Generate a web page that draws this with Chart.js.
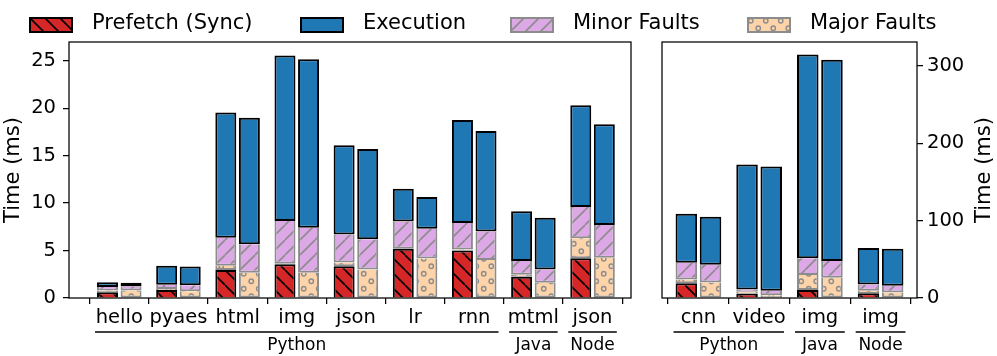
<!DOCTYPE html>
<html><head><meta charset="utf-8">
<script src="https://cdn.jsdelivr.net/npm/chart.js@4.4.0/dist/chart.umd.min.js"></script>
<style>
html,body{margin:0;padding:0;background:#fff;width:997px;height:356px;overflow:hidden;font-family:'DejaVu Sans';}
#wrap{position:relative;width:997px;height:356px;}
#cl{position:absolute;left:0;top:0;}
#cr{position:absolute;left:640px;top:0;}
.sw{position:absolute;top:17px;}
.lt{position:absolute;top:12px;font-size:21px;line-height:1;white-space:nowrap;color:#000;font-family:'DejaVu Sans';}
</style></head><body>
<div id="wrap">
<canvas id="cl" width="640" height="356"></canvas>
<canvas id="cr" width="357" height="356"></canvas>
<div id="legend"></div>
</div>
<script>
// ---------- data: left panel (ms) ----------
const labelsL = ['hello','pyaes','html','img','json','lr','rnn','mtml','json'];
const prefetchL   = [0.6, 0.85, 2.95, 3.55, 3.35, 5.2, 5.0, 2.25, 4.2];
const majorWithL  = [0.2, 0.1, 0.45, 0.05, 0.4, 0.0, 0.1, 0.2, 2.1];
const minorWithL  = [0.35, 0.45, 2.95, 4.5, 2.95, 2.85, 2.8, 1.45, 3.3];
const execWithL   = [0.5, 2.0, 13.2, 17.45, 9.4, 3.45, 10.85, 5.25, 10.7];
const majorL      = [0.8, 0.7, 2.65, 2.65, 3.0, 4.15, 4.0, 1.6, 4.25];
const minorL      = [0.4, 0.65, 3.0, 4.75, 3.2, 3.15, 3.0, 1.4, 3.45];
const execL       = [0.4, 1.96, 13.35, 17.75, 9.5, 3.35, 10.6, 5.45, 10.6];
const groupNamesL = ['Python','Java','Node'];
const groupFromL  = [0, 7, 8];
const groupToL    = [6, 7, 8];
const yTicksL     = [0, 5, 10, 15, 20, 25];

// ---------- data: right panel (ms) ----------
const labelsR = ['cnn','video','img','img'];
const prefetchR   = [19, 5.5, 10.3, 6];
const majorWithR  = [5, 2.5, 19.5, 3.5];
const minorWithR  = [21.5, 3, 21.5, 8];
const execWithR   = [63.5, 161.5, 263.5, 47];
const majorR      = [20, 3.5, 26.3, 7];
const minorR      = [23, 6, 21.6, 9];
const execR       = [62, 160.5, 260, 47.8];
const groupNamesR = ['Python','Java','Node'];
const groupFromR  = [0, 2, 3];
const groupToR    = [1, 2, 3];
const yTicksR     = [0, 100, 200, 300];

const legendNames = ['Prefetch (Sync)','Execution','Minor Faults','Major Faults'];

// ---------- styles ----------
const BLACK = '#000000', GREY = '#8c8c8c';
const STYLE = {
  prefetch: {fill:'#d62728', edge:BLACK, hatch:'back', hatchColor:'#000'},
  exec:     {fill:'#1f77b4', edge:BLACK, hatch:null},
  minor:    {fill:'#dca8e6', edge:GREY,  hatch:'fwd', hatchColor:'#8c8c8c'},
  major:    {fill:'#fdd3aa', edge:GREY,  hatch:'circ', hatchColor:'#8c8c8c'}
};
function makePattern(kind){
  const st = STYLE[kind];
  if(!st.hatch) return st.fill;
  const s = 15, c = document.createElement('canvas');
  c.width = s; c.height = s;
  const g = c.getContext('2d');
  g.fillStyle = st.fill; g.fillRect(0,0,s,s);
  g.strokeStyle = st.hatchColor; g.lineWidth = 1.6;
  if(st.hatch==='back'){
    for(const k of [-1,0,1]){ g.beginPath(); g.moveTo(k*s,0); g.lineTo(k*s+s,s); g.stroke(); }
  } else if(st.hatch==='fwd'){
    for(const k of [-1,0,1]){ g.beginPath(); g.moveTo(k*s,s); g.lineTo(k*s+s,0); g.stroke(); }
  } else {
    g.lineWidth = 1.4;
    for(const [cx,cy] of [[3.75,3.75],[11.25,11.25]]){ g.beginPath(); g.arc(cx,cy,2.2,0,Math.PI*2); g.stroke(); }
  }
  return g.createPattern(c,'repeat');
}
const PAT = {prefetch:makePattern('prefetch'), exec:makePattern('exec'), minor:makePattern('minor'), major:makePattern('major')};

Chart.defaults.font.family = 'DejaVu Sans';
Chart.defaults.color = '#000';
Chart.defaults.animation = false;

const pts = arr => arr.map((v,i)=>({x:i, y:v}));
function seg(label, arr, stack, kind, skip){
  return {label, data: pts(arr), stack, backgroundColor: PAT[kind], borderColor: STYLE[kind].edge,
    borderWidth: 2, borderSkipped: skip};
}

const framePlugin = {
  id:'frame',
  afterDatasetsDraw(chart){
    const {ctx, chartArea:a} = chart;
    ctx.save(); ctx.strokeStyle = '#000'; ctx.lineWidth = 1.25;
    ctx.strokeRect(a.left, a.top, a.right-a.left, a.bottom-a.top);
    ctx.restore();
  }
};
const groupPlugin = {
  id:'groups',
  afterDraw(chart, args, opts){
    const {ctx} = chart; const xs = chart.scales.x;
    ctx.save();
    ctx.strokeStyle = '#000'; ctx.lineWidth = 1.3;
    ctx.fillStyle = '#000'; ctx.font = '17px "DejaVu Sans"';
    ctx.textAlign = 'center'; ctx.textBaseline = 'alphabetic';
    opts.names.forEach((n,i)=>{
      const x1 = xs.getPixelForValue(opts.from[i]-0.41), x2 = xs.getPixelForValue(opts.to[i]+0.41);
      ctx.beginPath(); ctx.moveTo(x1, 332); ctx.lineTo(x2, 332); ctx.stroke();
      ctx.fillText(n, (x1+x2)/2, 349.5);
    });
    if(opts.rightTitle){
      const a = chart.chartArea;
      ctx.font = '21px "DejaVu Sans"'; ctx.textBaseline = 'middle';
      ctx.translate(345, (a.top+a.bottom)/2); ctx.rotate(-Math.PI/2);
      ctx.fillText(opts.rightTitle, 0, 0);
    }
    ctx.restore();
  }
};

function build(id, labels, d, groups, yMax, yTicks, side, xMin, xMax, pad, yWidth){
  const datasets = [
    seg('Prefetch (Sync)', d.prefetch, 'with', 'prefetch', 'bottom'),
    seg('Major Faults', d.majorWith, 'with', 'major', 'end'),
    seg('Minor Faults', d.minorWith, 'with', 'minor', 'end'),
    seg('Execution', d.execWith, 'with', 'exec', false),
    seg('Major Faults', d.major, 'without', 'major', 'end'),
    seg('Minor Faults', d.minor, 'without', 'minor', 'end'),
    seg('Execution', d.exec, 'without', 'exec', false)
  ];
  const tickGrid = {display:true, drawOnChartArea:false, drawTicks:true, tickLength:6, color:'#000', lineWidth:1.25};
  return new Chart(document.getElementById(id), {
    type:'bar',
    data:{datasets},
    plugins:[framePlugin, groupPlugin],
    options:{
      responsive:false,
      layout:{padding:pad},
      categoryPercentage:0.797,
      barPercentage:0.89,
      plugins:{legend:{display:false}, tooltip:{enabled:false},
        groups:{names:groups.names, from:groups.from, to:groups.to, rightTitle: side==='right' ? 'Time (ms)' : null}},
      scales:{
        x:{type:'linear', min:xMin, max:xMax, offset:false, bounds:'data', stacked:true,
          afterBuildTicks: ax => { ax.ticks = labels.map((_,i)=>({value:i})); },
          ticks:{autoSkip:false, maxRotation:0, minRotation:0, padding:2, font:{size:19.5}, callback:(v)=>labels[v] ?? ''},
          grid:tickGrid, border:{display:false},
          afterFit: ax => { ax.height = 58; }
        },
        y:{position:side, min:0, max:yMax, stacked:true,
          afterBuildTicks: ax => { ax.ticks = yTicks.map(v=>({value:v})); },
          ticks:{padding: side==='left' ? 7 : 4, font:{size:19.5}},
          grid:tickGrid, border:{display:false},
          title:{display: side==='left', text:'Time (ms)', font:{size:21, lineHeight:1}, padding:{top:3, bottom:0}},
          afterFit: ax => { ax.width = yWidth; }
        }
      }
    }
  });
}

build('cl', labelsL,
  {prefetch:prefetchL, majorWith:majorWithL, minorWith:minorWithL, execWith:execWithL, major:majorL, minor:minorL, exec:execL},
  {names:groupNamesL, from:groupFromL, to:groupToL}, 26.97, yTicksL, 'left', -0.85, 8.65,
  {left:0, right:9, top:42, bottom:0}, 69);
build('cr', labelsR,
  {prefetch:prefetchR, majorWith:majorWithR, minorWith:minorWithR, execWith:execWithR, major:majorR, minor:minorR, exec:execR},
  {names:groupNamesR, from:groupFromR, to:groupToR}, 331, yTicksR, 'right', -0.6, 3.6,
  {left:22, right:0, top:42, bottom:0}, 80);

// ---------- legend ----------
const legendKinds = ['prefetch','exec','minor','major'];
const legendLeft = [29, 300, 510, 747];
const lg = document.getElementById('legend');
legendNames.forEach((n,i)=>{
  const c = document.createElement('canvas');
  c.width = 44; c.height = 16; c.className = 'sw'; c.style.left = legendLeft[i]+'px';
  const g = c.getContext('2d');
  g.fillStyle = PAT[legendKinds[i]]; g.fillRect(0,0,44,16);
  g.strokeStyle = STYLE[legendKinds[i]].edge; g.lineWidth = 2; g.strokeRect(1,1,42,14);
  lg.appendChild(c);
  const t = document.createElement('span');
  t.className = 'lt'; t.textContent = n; t.style.left = (legendLeft[i]+63)+'px';
  lg.appendChild(t);
});
</script>
</body></html>
